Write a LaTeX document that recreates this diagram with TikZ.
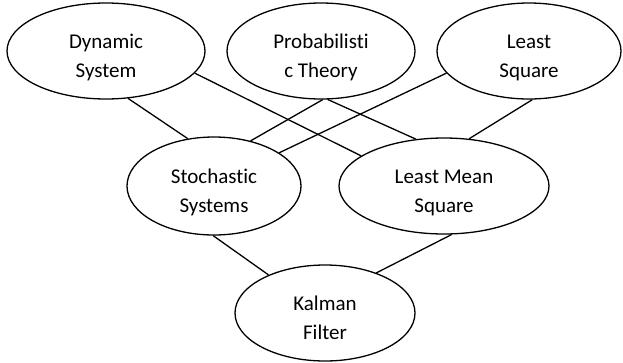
\documentclass[tikz,border=0pt]{standalone}
\usepackage{fontspec}
\setmainfont{Carlito}[Ligatures = NoCommon]
\usetikzlibrary{shapes,positioning}

\begin{document}
\begin{tikzpicture}[x = 1pt, y = -1pt, on grid, line width = 1.3pt, state/.style = {draw, ellipse, align = center, minimum height = 96pt, inner sep = 0pt, text height = 52pt, text depth = 0pt, font = \fontsize{21}{29}\selectfont}]
\useasboundingbox (0,0) rectangle (623,362);

\node[state, minimum width = 198pt] (1) at (106,51) {Dynamic\\System};
\node[state, minimum width = 188pt, right = 215pt of 1] (2) {Probabilisti\\c Theory};
\node[state, minimum width = 184pt, right = 208pt of 2] (3) {Least\\Square};
\node[state, minimum width = 174pt, minimum height = 98pt, below right = 135pt and 108pt of 1] (4) {Stochastic\\Systems};
\node[state, minimum width = 210pt, right = 230pt of 4] (5) {Least Mean\\Square};
\node[state, minimum width = 180pt, below right = 127pt and 111pt of 4] (6) {Kalman\\Filter};

\path (1.-65) edge (4.119);
\path (1.-14) edge (5.160);
\path (2.-88) edge (4.51);
\path (2.-82) edge (5.121);
\path (3.-165) edge (4.27);
\path (3.-86) edge (5.62);

\path (4.-91) edge (6.146);
\path (5.-81) edge (6.38);
\end{tikzpicture}
\end{document}
